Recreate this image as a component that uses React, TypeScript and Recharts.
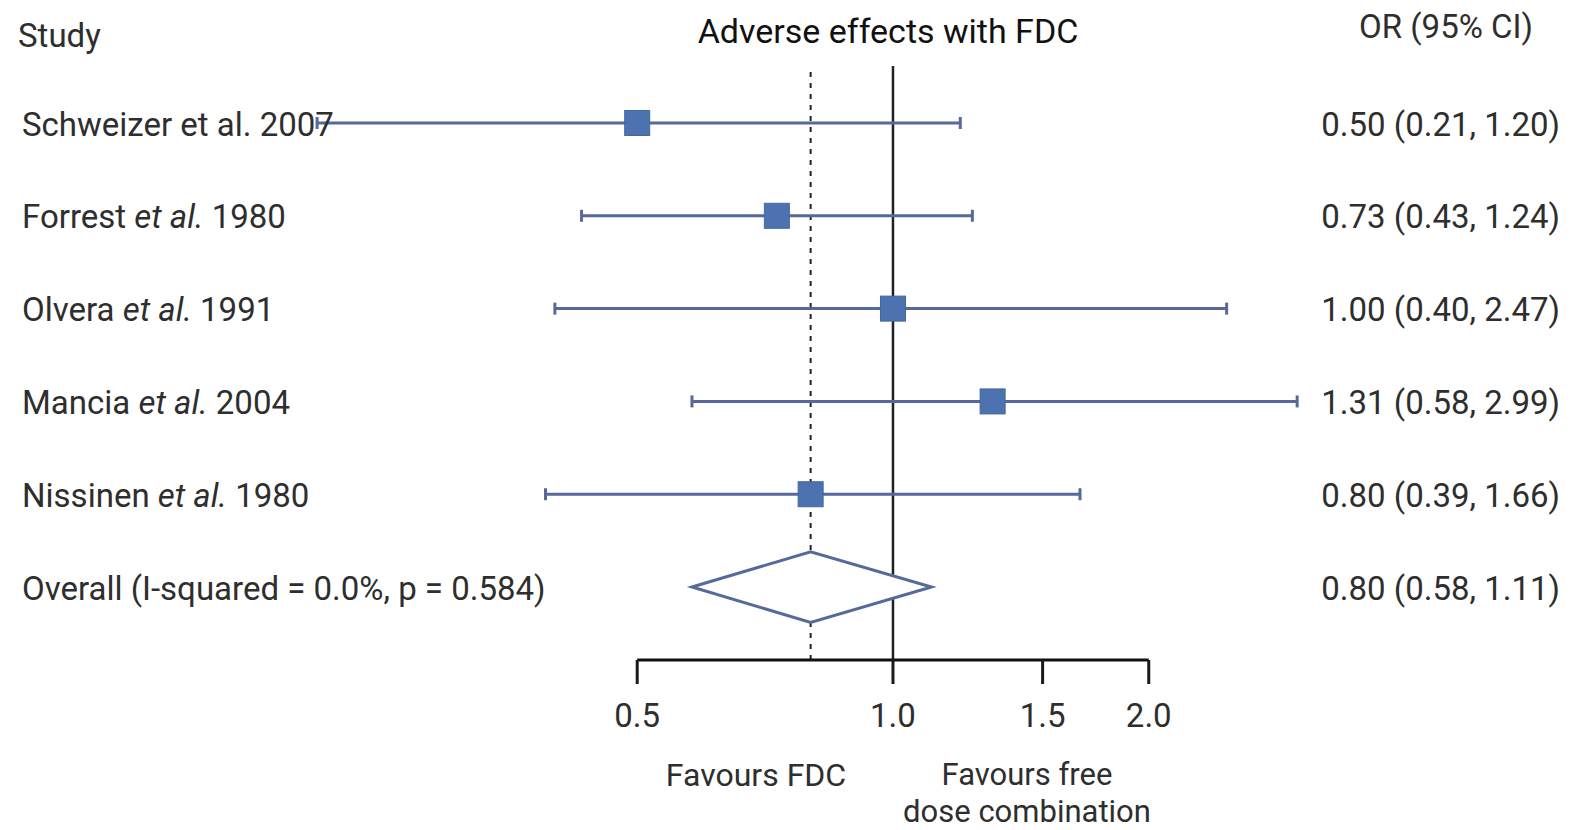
import React from "react";
import {
  ComposedChart,
  Scatter,
  XAxis,
  YAxis,
  ErrorBar,
  ReferenceLine,
} from "recharts";

// per-study odds ratios with 95% CI
const authors = ["Schweizer", "Forrest", "Olvera", "Mancia", "Nissinen"];
const years = [2007, 1980, 1991, 2004, 1980];
const italicEtAl = [false, true, true, true, true];
const oddsRatios = [0.5, 0.73, 1.0, 1.31, 0.8];
const lowerCI = [0.21, 0.43, 0.4, 0.58, 0.39];
const upperCI = [1.2, 1.24, 2.47, 2.99, 1.66];

// pooled estimate
const overallLabel = "Overall (I-squared = 0.0%, p = 0.584)";
const overallOR = 0.8;
const overallLower = 0.58;
const overallUpper = 1.11;

const xTicks = [0.5, 1.0, 1.5, 2.0];
const rowTicks = [1, 2, 3, 4, 5, 6];

const W = 1572;
const H = 830;
const FONT = "Roboto, 'Noto Sans', sans-serif";
const TEXT = "#2e2e2e";
const LINE_BLUE = "#56699a";
const SQUARE_BLUE = "#4d72b0";

const Y_DOMAIN: [number, number] = [0.386, 6.786];
const X_DOMAIN: [number, number] = [0.2005, 3.096];
const DIAMOND_HALF = 0.38;

const studyRows = oddsRatios.map((or, i) => ({
  x: or,
  y: i + 1,
  err: [or - lowerCI[i], upperCI[i] - or],
}));

const diamond = [
  { x: overallLower, y: 6 },
  { x: overallOR, y: 6 - DIAMOND_HALF },
  { x: overallUpper, y: 6 },
  { x: overallOR, y: 6 + DIAMOND_HALF },
  { x: overallLower, y: 6 },
];

const fmt = (v: number) => v.toFixed(2);
const rightLabels = [
  ...oddsRatios.map((or, i) => `${fmt(or)} (${fmt(lowerCI[i])}, ${fmt(upperCI[i])})`),
  `${fmt(overallOR)} (${fmt(overallLower)}, ${fmt(overallUpper)})`,
];

const StudyTick = (props: any) => {
  const idx = Math.round(props.payload.value) - 1;
  const y = props.y;
  if (idx === 5) {
    return (
      <text x={22} y={y} dy="0.38em" fill={TEXT} fontSize={33} fontFamily={FONT}>
        {overallLabel}
      </text>
    );
  }
  return (
    <text x={22} y={y} dy="0.38em" fill={TEXT} fontSize={33} fontFamily={FONT}>
      <tspan>{authors[idx]} </tspan>
      <tspan fontStyle={italicEtAl[idx] ? "italic" : "normal"}>et al.</tspan>
      <tspan> {years[idx]}</tspan>
    </text>
  );
};

const EstimateTick = (props: any) => {
  const idx = Math.round(props.payload.value) - 1;
  return (
    <text
      x={W - 12}
      y={props.y}
      dy="0.38em"
      textAnchor="end"
      fill={TEXT}
      fontSize={33}
      fontFamily={FONT}
    >
      {rightLabels[idx]}
    </text>
  );
};

const Square = (p: any) => (
  <rect x={p.cx - 12.5} y={p.cy - 12.5} width={25} height={25} fill={SQUARE_BLUE} stroke="#45679f" strokeWidth={1} />
);

const DiamondOutline = (p: any) => {
  const pts = (p.points || []) as { x: number; y: number }[];
  const d = pts.map((pt, i) => `${i === 0 ? "M" : "L"}${pt.x},${pt.y}`).join(" ") + " Z";
  return <path d={d} fill="#ffffff" stroke={LINE_BLUE} strokeWidth={3} strokeLinejoin="miter" />;
};

export default function App() {
  return (
    <div style={{ position: "absolute", left: 0, top: 0, width: W, height: H, background: "#fff" }}>
      <ComposedChart width={W} height={H} margin={{ top: 66, right: 0, bottom: 0, left: 0 }}>
        <XAxis
          dataKey="x"
          type="number"
          scale="log"
          domain={X_DOMAIN}
          allowDataOverflow
          ticks={xTicks}
          tickFormatter={(v: number) => v.toFixed(1)}
          axisLine={false}
          tickLine={{ stroke: "#1a1a1a", strokeWidth: 3 }}
          tickSize={24}
          tickMargin={20}
          height={170}
          tick={{ fill: TEXT, fontSize: 33, fontFamily: FONT }}
        />
        <YAxis
          yAxisId="left"
          dataKey="y"
          type="number"
          domain={Y_DOMAIN}
          allowDataOverflow
          reversed
          ticks={rowTicks}
          width={300}
          axisLine={false}
          tickLine={false}
          tick={<StudyTick />}
        />
        <YAxis
          yAxisId="right"
          orientation="right"
          type="number"
          domain={Y_DOMAIN}
          allowDataOverflow
          reversed
          ticks={rowTicks}
          width={262}
          axisLine={false}
          tickLine={false}
          tick={<EstimateTick />}
        />
        <ReferenceLine yAxisId="left" x={overallOR} stroke="#222" strokeWidth={2} strokeDasharray="5 6" />
        <ReferenceLine yAxisId="left" x={1} stroke="#222" strokeWidth={2.5} />
        <ReferenceLine
          yAxisId="left"
          segment={[
            { x: xTicks[0], y: Y_DOMAIN[1] },
            { x: xTicks[xTicks.length - 1], y: Y_DOMAIN[1] },
          ]}
          stroke="#111"
          strokeWidth={3}
          ifOverflow="visible"
        />
        <Scatter
          yAxisId="left"
          data={diamond}
          dataKey="y"
          line={DiamondOutline}
          shape={() => <g />}
          isAnimationActive={false}
        />
        <Scatter
          yAxisId="left"
          data={studyRows}
          dataKey="y"
          shape={Square}
          isAnimationActive={false}
        >
          <ErrorBar dataKey="err" direction="x" width={6} stroke={LINE_BLUE} strokeWidth={3} />
        </Scatter>
      </ComposedChart>
      <svg
        width={W}
        height={H}
        style={{ position: "absolute", left: 0, top: 0, pointerEvents: "none" }}
        fontFamily={FONT}
        fill={TEXT}
      >
        <text x={18} y={47} fontSize={33}>Study</text>
        <text x={888} y={43} fontSize={34} textAnchor="middle" fill="#111">Adverse effects with FDC</text>
        <text x={1533} y={38} fontSize={33} textAnchor="end">OR (95% CI)</text>
        <text x={756} y={786} fontSize={32} textAnchor="middle">Favours FDC</text>
        <text x={1027} y={785} fontSize={31} textAnchor="middle">Favours free</text>
        <text x={1027} y={822} fontSize={31} textAnchor="middle">dose combination</text>
      </svg>
    </div>
  );
}
